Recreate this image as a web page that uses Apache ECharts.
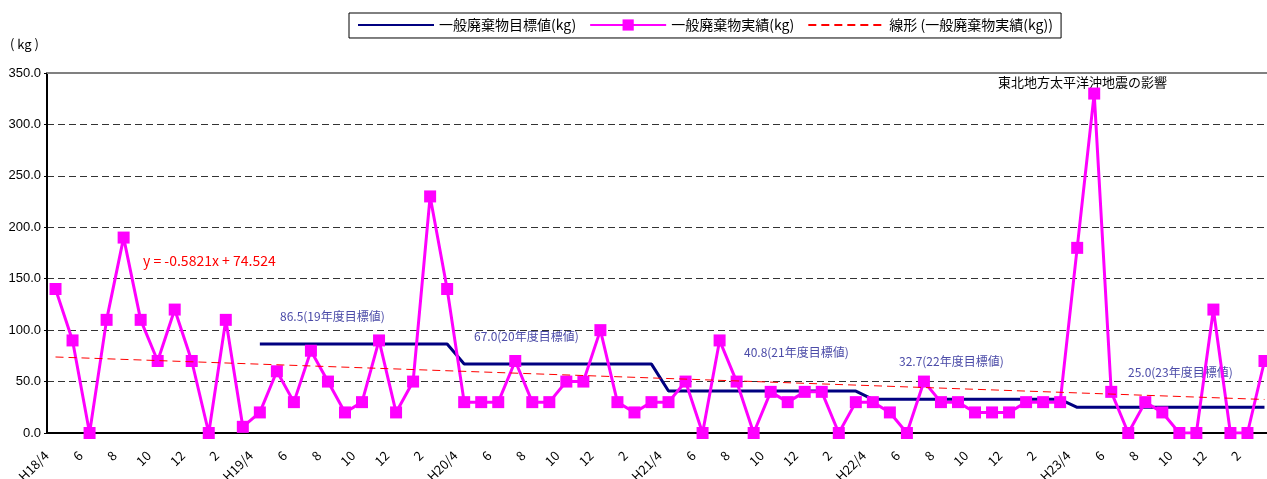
<!DOCTYPE html>
<html>
<head>
<meta charset="utf-8">
<script src="https://cdn.jsdelivr.net/npm/echarts@6/dist/echarts.min.js"></script>
<style>
  html, body { margin: 0; padding: 0; background: #fff; }
  #chart { width: 1267px; height: 479px; }
</style>
</head>
<body>
<div id="chart"></div>
<script>
// months H18/4 .. H24/3
var months = [
  'H18/4', '5', '6', '7', '8', '9', '10', '11', '12', '1', '2', '3',
  'H19/4', '5', '6', '7', '8', '9', '10', '11', '12', '1', '2', '3',
  'H20/4', '5', '6', '7', '8', '9', '10', '11', '12', '1', '2', '3',
  'H21/4', '5', '6', '7', '8', '9', '10', '11', '12', '1', '2', '3',
  'H22/4', '5', '6', '7', '8', '9', '10', '11', '12', '1', '2', '3',
  'H23/4', '5', '6', '7', '8', '9', '10', '11', '12', '1', '2', '3'
]

// 一般廃棄物実績(kg)
var actualKg = [
  140, 90, 0, 110, 190, 110, 70, 120, 70, 0, 110, 6,
  20, 60, 30, 80, 50, 20, 30, 90, 20, 50, 230, 140,
  30, 30, 30, 70, 30, 30, 50, 50, 100, 30, 20, 30,
  30, 50, 0, 90, 50, 0, 40, 30, 40, 40, 0, 30,
  30, 20, 0, 50, 30, 30, 20, 20, 20, 30, 30, 30,
  180, 330, 40, 0, 30, 20, 0, 0, 120, 0, 0, 70
]

// 一般廃棄物目標値(kg) - no target in H18
var targetKg = [
  null, null, null, null, null, null, null, null, null, null, null, null,
  86.5, 86.5, 86.5, 86.5, 86.5, 86.5, 86.5, 86.5, 86.5, 86.5, 86.5, 86.5,
  67.0, 67.0, 67.0, 67.0, 67.0, 67.0, 67.0, 67.0, 67.0, 67.0, 67.0, 67.0,
  40.8, 40.8, 40.8, 40.8, 40.8, 40.8, 40.8, 40.8, 40.8, 40.8, 40.8, 40.8,
  32.7, 32.7, 32.7, 32.7, 32.7, 32.7, 32.7, 32.7, 32.7, 32.7, 32.7, 32.7,
  25.0, 25.0, 25.0, 25.0, 25.0, 25.0, 25.0, 25.0, 25.0, 25.0, 25.0, 25.0
]

// 線形 trend, start / end values
var trendStart = 73.9
var trendEnd = 32.6

var yTicks = [0, 50, 100, 150, 200, 250, 300, 350]

var names = ['一般廃棄物目標値(kg)', '一般廃棄物実績(kg)', '線形 (一般廃棄物実績(kg))']

var notes = [
  { text: '86.5(19年度目標値)', x: 280, y: 317 },
  { text: '67.0(20年度目標値)', x: 474, y: 337 },
  { text: '40.8(21年度目標値)', x: 744, y: 353 },
  { text: '32.7(22年度目標値)', x: 899, y: 362 },
  { text: '25.0(23年度目標値)', x: 1128, y: 373 }
]

var trend = actualKg.map(function () { return null })
trend[0] = trendStart
trend[trend.length - 1] = trendEnd

var font = '"Noto Sans CJK JP", "Liberation Sans", sans-serif'

var graphics = notes.map(function (n) {
  return {
    type: 'text', left: n.x, top: n.y - 7,
    style: { text: n.text, fill: '#4B4BA8', font: '12px ' + font }
  }
})
graphics.push({
  type: 'text', left: 998, top: 76,
  style: { text: '東北地方太平洋沖地震の影響', fill: '#000', font: '13px ' + font }
})
graphics.push({
  type: 'text', left: 143, top: 254,
  style: { text: 'y = -0.5821x + 74.524', fill: '#FF0000', font: '14px ' + font }
})
graphics.push({
  type: 'text', left: 10, top: 38,
  style: { text: '( kg )', fill: '#000', font: '13px ' + font }
})

// hide the legend marker on the plain line items
var noMark = { color: 'transparent', borderColor: 'transparent', borderWidth: 0 }

var chart = echarts.init(document.getElementById('chart'))
var option = {
  animation: false,
  backgroundColor: '#fff',
  textStyle: { fontFamily: font },
  legend: {
    left: 349,
    top: 13,
    padding: [5, 8, 6, 8],
    itemGap: 13,
    itemWidth: 76,
    itemHeight: 14,
    borderColor: '#000',
    borderWidth: 1,
    textStyle: { color: '#000', fontSize: 14 },
    data: [
      { name: names[0], itemStyle: noMark },
      { name: names[1] },
      { name: names[2], itemStyle: noMark }
    ]
  },
  grid: { left: 47, right: -6, top: 73, bottom: 46, containLabel: false, outerBoundsMode: 'none' },
  xAxis: [
    {
      type: 'category',
      data: months,
      boundaryGap: true,
      axisLine: { lineStyle: { color: '#000', width: 2 } },
      axisTick: { inside: true, length: 4, interval: 0, lineStyle: { color: '#000' } },
      axisLabel: {
        interval: 1,
        rotate: 45,
        fontSize: 13,
        color: '#000',
        margin: 11,
        padding: [0, 13, 0, 0]
      },
      splitLine: { show: false }
    },
    {
      type: 'category',
      data: months,
      position: 'top',
      axisLine: { lineStyle: { color: '#808080', width: 2 } },
      axisTick: { show: false },
      axisLabel: { show: false },
      splitLine: { show: false }
    }
  ],
  yAxis: {
    type: 'value',
    min: yTicks[0],
    max: yTicks[yTicks.length - 1],
    interval: 50,
    axisLine: { show: true, lineStyle: { color: '#000', width: 2 } },
    axisTick: { show: true, length: 3, lineStyle: { color: '#000' } },
    axisLabel: {
      color: '#000',
      fontSize: 13,
      margin: 6,
      fontFamily: '"Liberation Sans", Arial, sans-serif',
      formatter: function (v) { return v.toFixed(1) }
    },
    splitLine: {
      lineStyle: {
        color: ['#333', '#333', '#333', '#333', '#333', '#333', '#333', 'transparent'],
        type: [7, 4],
        width: 1
      }
    }
  },
  graphic: graphics,
  series: [
    {
      name: names[0],
      type: 'line',
      data: targetKg,
      symbol: 'none',
      lineStyle: { color: '#000080', width: 3 },
      itemStyle: { color: '#000080' },
      z: 2
    },
    {
      name: names[1],
      type: 'line',
      data: actualKg,
      symbol: 'rect',
      symbolSize: 12,
      showAllSymbol: true,
      lineStyle: { color: '#FF00FF', width: 3 },
      itemStyle: { color: '#FF00FF' },
      z: 3
    },
    {
      name: names[2],
      type: 'line',
      data: trend,
      connectNulls: true,
      symbol: 'none',
      lineStyle: { color: '#FF0000', width: 1, type: [8, 5] },
      itemStyle: { color: '#FF0000' },
      z: 4
    }
  ]
}
chart.setOption(option)
</script>
</body>
</html>
